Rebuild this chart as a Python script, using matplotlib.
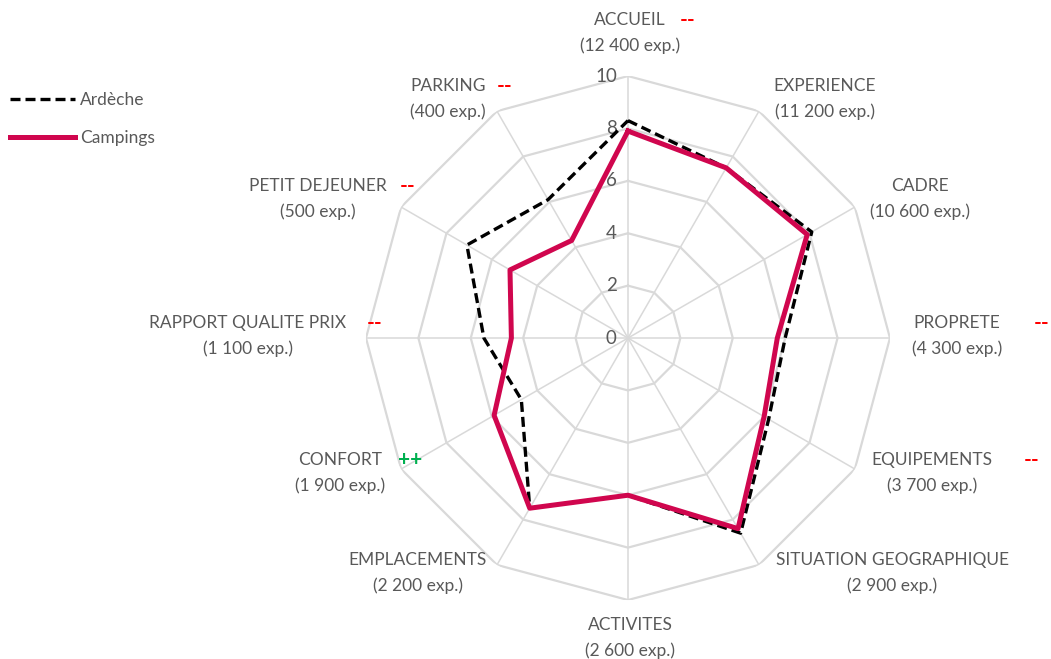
import numpy as np
import matplotlib.pyplot as plt

# categories, clockwise from the top
categories = ['ACCUEIL', 'EXPERIENCE', 'CADRE', 'PROPRETE', 'EQUIPEMENTS',
              'SITUATION GEOGRAPHIQUE', 'ACTIVITES', 'EMPLACEMENTS', 'CONFORT',
              'RAPPORT QUALITE PRIX', 'PETIT DEJEUNER', 'PARKING']
counts = ['12 400', '11 200', '10 600', '4 300', '3 700', '2 900',
          '2 600', '2 200', '1 900', '1 100', '500', '400']
marks = ['--', '', '', '--', '--', '', '', '', '++', '--', '--', '--']

ardeche = [8.3, 7.5, 8.1, 6.0, 6.2, 8.6, 6.0, 7.5, 4.7, 5.5, 7.1, 6.1]
campings = [7.9, 7.5, 7.9, 5.7, 6.0, 8.4, 6.0, 7.5, 5.9, 4.45, 5.2, 4.3]
rings = [2, 4, 6, 8, 10]

plt.rcParams['font.family'] = ['Lato', 'DejaVu Sans']
grey = '#595959'

fig = plt.figure(figsize=(10.51, 6.59), dpi=100)
ax = fig.add_axes([0.3482, 0.0895, 0.4986, 0.7951], projection='polar')
ax.set_theta_offset(np.pi / 2)
ax.set_theta_direction(-1)
ax.set_ylim(0, 10)
ax.axis('off')

n = len(categories)
angles = np.linspace(0, 2 * np.pi, n, endpoint=False)
closed = np.append(angles, angles[0])

# polygon grid
for r in rings:
    ax.plot(closed, [r] * (n + 1), color='#d9d9d9', lw=1.6, zorder=1)
for a in angles:
    ax.plot([a, a], [0, 10], color='#d9d9d9', lw=1.1, zorder=1)
for r in [0] + rings:
    ax.annotate(str(r), (0, r), xytext=(-8, 0), textcoords='offset points',
                ha='right', va='center', color=grey, fontsize=13.5)

ax.plot(closed, ardeche + ardeche[:1], color='black', lw=2.4,
        dashes=(3, 1.5), zorder=3, label='Ardèche')
ax.plot(closed, campings + campings[:1], color='#d0064e', lw=3.6,
        zorder=4, label='Campings')

# category labels (pixel centres)
label_pos = [(630, 20), (825, 86), (920, 186), (957, 323), (932, 460),
             (892, 560), (630, 625), (418, 560), (340, 460), (248, 323),
             (318, 186), (448, 86)]
mark_pos = [(688, 20), None, None, (1042, 323), (1032, 460), None, None,
            None, (410, 460), (375, 323), (408, 186), (505, 86)]
W, H = 1051, 659
for i, cat in enumerate(categories):
    x, y = label_pos[i]
    fig.text(x / W, 1 - y / H, cat, ha='center', va='center',
             color=grey, fontsize=12.5)
    fig.text(x / W, 1 - (y + 26) / H, '(' + counts[i] + ' exp.)',
             ha='center', va='center', color=grey, fontsize=12.5)
    if marks[i]:
        mx, my = mark_pos[i]
        col = '#00b050' if marks[i] == '++' else '#ff0000'
        fig.text(mx / W, 1 - my / H, marks[i], ha='center', va='center',
                 color=col, fontsize=15, fontweight='bold')

fig.legend(loc='upper left', bbox_to_anchor=(0.0, 0.876), frameon=False,
           fontsize=12.5, labelcolor=grey, handlelength=3.7,
           handletextpad=0.3, labelspacing=1.25, borderaxespad=0.2)

fig.savefig('out.png', dpi=100)
